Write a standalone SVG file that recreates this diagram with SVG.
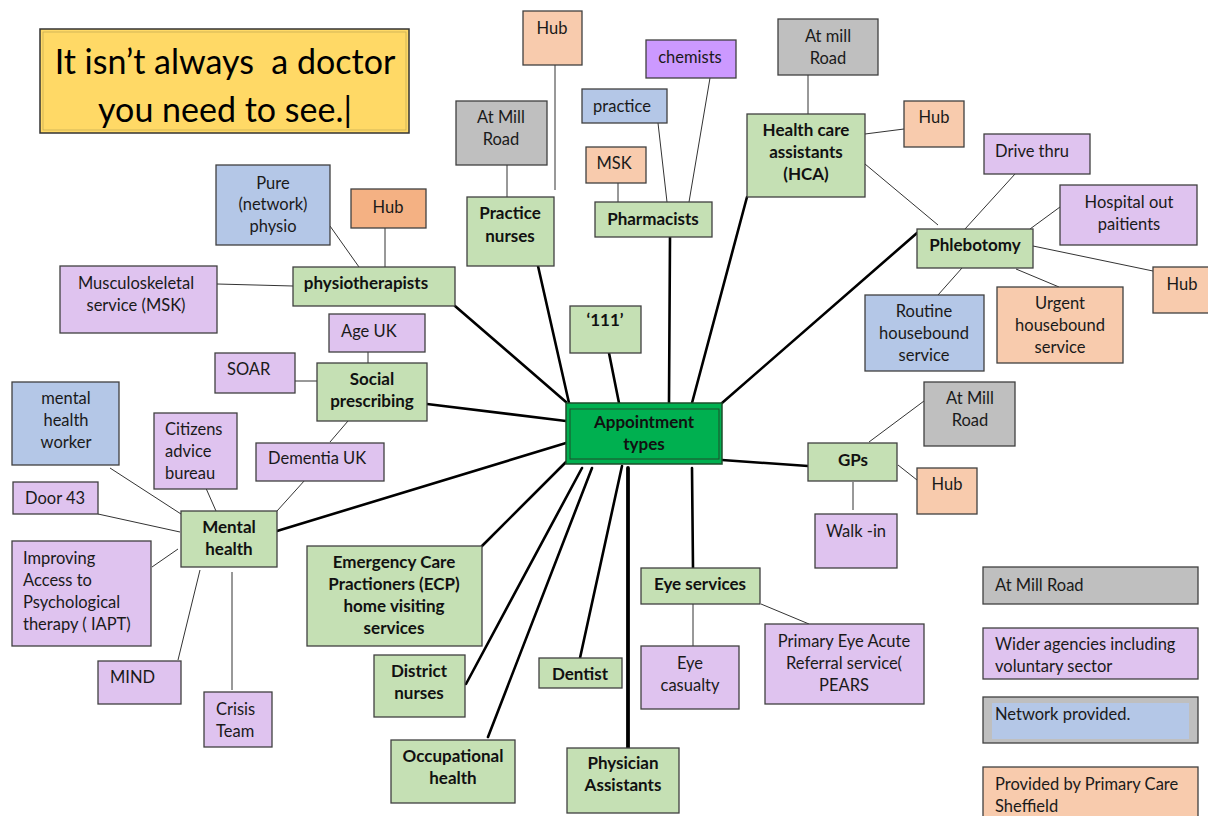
<svg xmlns="http://www.w3.org/2000/svg" width="1208" height="816" viewBox="0 0 1208 816">
<defs>
<style>
.n rect{stroke:#404040;stroke-width:1.3}
.g{fill:#C5E0B4}.gr{fill:#BFBFBF}.bl{fill:#B4C7E7}.pe{fill:#F8CBAD}.or{fill:#F4B183}.li{fill:#DFC3EF}.pu{fill:#CC99FF}
text{font-family:Lato,"Open Sans","Liberation Sans",sans-serif;font-size:16.5px;fill:#1a1a1a}
.b{font-weight:bold;text-anchor:middle;fill:#111;font-size:17px}
.c{text-anchor:middle}
.thick line{stroke:#000;stroke-width:2.6;stroke-linecap:round}
.thin line{stroke:#333;stroke-width:1}
</style>
<clipPath id="clipW"><rect x="983" y="628" width="215" height="51"/></clipPath>
</defs>
<rect width="1208" height="816" style="fill:#fff;stroke:none"/>

<g id="connectors">
<g class="thick">
<line x1="455" y1="306" x2="566" y2="402"/>
<line x1="538" y1="266" x2="569" y2="403"/>
<line x1="609" y1="353" x2="619" y2="403"/>
<line x1="670" y1="237" x2="669" y2="403"/>
<line x1="747" y1="197" x2="692" y2="403"/>
<line x1="917" y1="233" x2="722" y2="403"/>
<line x1="427" y1="404" x2="566" y2="421"/>
<line x1="277" y1="531" x2="566" y2="443"/>
<line x1="722" y1="460" x2="808" y2="466"/>
<line x1="482" y1="546" x2="566" y2="462"/>
<line x1="466" y1="684" x2="582" y2="468"/>
<line x1="488" y1="737" x2="592" y2="468"/>
<line x1="580" y1="658" x2="622" y2="466"/>
<line x1="628" y1="468" x2="628" y2="748" style="stroke-width:3.8"/>
<line x1="692" y1="468" x2="693" y2="568"/>
</g>
<g class="thin">
<line x1="555" y1="65" x2="555" y2="190"/>
<line x1="507" y1="165" x2="507" y2="197"/>
<line x1="618" y1="183" x2="618" y2="202"/>
<line x1="658" y1="123" x2="667" y2="202"/>
<line x1="710" y1="78" x2="689" y2="202"/>
<line x1="808" y1="75" x2="808" y2="114"/>
<line x1="904" y1="129" x2="865" y2="134"/>
<line x1="865" y1="164" x2="938" y2="225"/>
<line x1="1015" y1="174" x2="965" y2="229"/>
<line x1="1060" y1="207" x2="1030" y2="229"/>
<line x1="1033" y1="246" x2="1153" y2="271"/>
<line x1="1016" y1="269" x2="1059" y2="287"/>
<line x1="962" y1="268" x2="938" y2="295"/>
<line x1="330" y1="226" x2="359" y2="267"/>
<line x1="385" y1="228" x2="385" y2="267"/>
<line x1="217" y1="284" x2="293" y2="286"/>
<line x1="368" y1="345" x2="368" y2="363"/>
<line x1="295" y1="381" x2="317" y2="381"/>
<line x1="330" y1="442" x2="348" y2="421"/>
<line x1="110" y1="468" x2="181" y2="514"/>
<line x1="205" y1="486" x2="216" y2="511"/>
<line x1="305" y1="480" x2="277" y2="511"/>
<line x1="98" y1="514" x2="180" y2="532"/>
<line x1="152" y1="567" x2="178" y2="549"/>
<line x1="178" y1="660" x2="200" y2="570"/>
<line x1="232" y1="572" x2="232" y2="690"/>
<line x1="869" y1="442" x2="924" y2="401"/>
<line x1="898" y1="465" x2="917" y2="480"/>
<line x1="853" y1="482" x2="853" y2="510"/>
<line x1="693" y1="604" x2="693" y2="646"/>
<line x1="761" y1="604" x2="809" y2="624"/>
</g>
</g>

<g id="title">
<rect x="40" y="29" width="369" height="104" style="fill:#FFD966;stroke:#333;stroke-width:1.5"/>
<rect x="43" y="32" width="363" height="98" style="fill:none;stroke:#C9AE55;stroke-width:0.8"/>
<text x="225" y="74" class="c" style="font-size:34px;fill:#000;white-space:pre" xml:space="preserve">It isn’t always  a doctor</text>
<text x="225" y="122" class="c" style="font-size:34px;fill:#000">you need to see.|</text>
</g>

<g id="appointment-types">
<rect x="566" y="403" width="156" height="61" style="fill:#00B050;stroke:#1E4D2B;stroke-width:1.5"/>
<rect x="570" y="409" width="149" height="50" style="fill:none;stroke:#1E4D2B;stroke-width:1"/>
<text x="644" y="428" class="b">Appointment</text>
<text x="644" y="450" class="b">types</text>
</g>

<g class="n">
<g id="practice-nurses"><rect x="467" y="197" width="87" height="69" class="g"/><text x="510" y="219" class="b">Practice</text><text x="510" y="242" class="b">nurses</text></g>
<g id="pn-hub"><rect x="523" y="11" width="59" height="54" class="pe"/><text x="552" y="34" class="c">Hub</text></g>
<g id="pn-millroad"><rect x="456" y="101" width="91" height="64" class="gr"/><text x="501" y="123" class="c">At Mill</text><text x="501" y="145" class="c">Road</text></g>

<g id="pharmacists"><rect x="595" y="202" width="117" height="35" class="g"/><text x="653" y="225" class="b">Pharmacists</text></g>
<g id="ph-practice"><rect x="582" y="89" width="85" height="34" class="bl"/><text x="622" y="112" class="c">practice</text></g>
<g id="ph-chemists"><rect x="646" y="40" width="90" height="38" class="pu"/><text x="690" y="63" class="c">chemists</text></g>
<g id="ph-msk"><rect x="586" y="147" width="60" height="36" class="pe"/><text x="614" y="169" class="c">MSK</text></g>

<g id="hca"><rect x="747" y="114" width="118" height="83" class="g"/><text x="806" y="136" class="b">Health care</text><text x="806" y="158" class="b">assistants</text><text x="806" y="180" class="b">(HCA)</text></g>
<g id="hca-millroad"><rect x="778" y="19" width="100" height="56" class="gr"/><text x="828" y="42" class="c">At mill</text><text x="828" y="64" class="c">Road</text></g>
<g id="hca-hub"><rect x="904" y="101" width="60" height="46" class="pe"/><text x="934" y="123" class="c">Hub</text></g>

<g id="phlebotomy"><rect x="917" y="229" width="116" height="39" class="g"/><text x="975" y="251" class="b">Phlebotomy</text></g>
<g id="drive-thru"><rect x="984" y="134" width="106" height="40" class="li"/><text x="1032" y="157" class="c">Drive thru</text></g>
<g id="hospital-out"><rect x="1060" y="185" width="137" height="60" class="li"/><text x="1129" y="208" class="c">Hospital out</text><text x="1129" y="230" class="c">paitients</text></g>
<g id="phleb-hub"><rect x="1153" y="267" width="60" height="46" class="pe"/><text x="1182" y="290" class="c">Hub</text></g>
<g id="urgent"><rect x="997" y="287" width="126" height="76" class="pe"/><text x="1060" y="309" class="c">Urgent</text><text x="1060" y="331" class="c">housebound</text><text x="1060" y="353" class="c">service</text></g>
<g id="routine"><rect x="865" y="295" width="119" height="76" class="bl"/><text x="924" y="317" class="c">Routine</text><text x="924" y="339" class="c">housebound</text><text x="924" y="361" class="c">service</text></g>

<g id="physiotherapists"><rect x="293" y="267" width="162" height="39" class="g"/><text x="366" y="289" class="b">physiotherapists</text></g>
<g id="pure-physio"><rect x="216" y="165" width="114" height="80" class="bl"/><text x="273" y="189" class="c">Pure</text><text x="273" y="210" class="c">(network)</text><text x="273" y="232" class="c">physio</text></g>
<g id="physio-hub"><rect x="351" y="189" width="75" height="39" class="or"/><text x="388" y="213" class="c">Hub</text></g>
<g id="msk-service"><rect x="60" y="266" width="157" height="67" class="li"/><text x="136" y="289" class="c">Musculoskeletal</text><text x="136" y="311" class="c">service (MSK)</text></g>

<g id="social-prescribing"><rect x="317" y="363" width="110" height="58" class="g"/><text x="372" y="385" class="b">Social</text><text x="372" y="407" class="b">prescribing</text></g>
<g id="age-uk"><rect x="329" y="314" width="96" height="38" class="li"/><text x="341" y="337">Age UK</text></g>
<g id="soar"><rect x="215" y="353" width="80" height="40" class="li"/><text x="227" y="375">SOAR</text></g>
<g id="dementia-uk"><rect x="256" y="443" width="128" height="38" class="li"/><text x="268" y="464">Dementia UK</text></g>

<g id="mental-health"><rect x="181" y="511" width="96" height="56" class="g"/><text x="229" y="533" class="b">Mental</text><text x="229" y="555" class="b">health</text></g>
<g id="mh-worker"><rect x="12" y="382" width="107" height="83" class="bl"/><text x="66" y="404" class="c">mental</text><text x="66" y="426" class="c">health</text><text x="66" y="448" class="c">worker</text></g>
<g id="citizens"><rect x="154" y="413" width="83" height="76" class="li"/><text x="165" y="435">Citizens</text><text x="165" y="457">advice</text><text x="165" y="479">bureau</text></g>
<g id="door43"><rect x="13" y="482" width="85" height="32" class="li"/><text x="25" y="504">Door 43</text></g>
<g id="iapt"><rect x="12" y="541" width="139" height="105" class="li"/><text x="23" y="564">Improving</text><text x="23" y="586">Access to</text><text x="23" y="608">Psychological</text><text x="23" y="630">therapy ( IAPT)</text></g>
<g id="mind"><rect x="98" y="661" width="83" height="43" class="li"/><text x="110" y="683">MIND</text></g>
<g id="crisis"><rect x="204" y="692" width="68" height="55" class="li"/><text x="216" y="715">Crisis</text><text x="216" y="737">Team</text></g>

<g id="n111"><rect x="570" y="306" width="71" height="47" class="g"/><text x="605" y="326" class="b">‘111’</text></g>

<g id="gps"><rect x="808" y="443" width="89" height="38" class="g"/><text x="853" y="466" class="b">GPs</text></g>
<g id="gp-millroad"><rect x="924" y="382" width="91" height="64" class="gr"/><text x="970" y="404" class="c">At Mill</text><text x="970" y="426" class="c">Road</text></g>
<g id="gp-hub"><rect x="917" y="468" width="60" height="46" class="pe"/><text x="947" y="490" class="c">Hub</text></g>
<g id="walk-in"><rect x="815" y="514" width="82" height="54" class="li"/><text x="856" y="537" class="c">Walk -in</text></g>

<g id="ecp"><rect x="307" y="546" width="175" height="100" class="g"/><text x="394" y="568" class="b">Emergency Care</text><text x="394" y="590" class="b">Practioners (ECP)</text><text x="394" y="612" class="b">home visiting</text><text x="394" y="634" class="b">services</text></g>
<g id="district-nurses"><rect x="374" y="655" width="91" height="62" class="g"/><text x="419" y="677" class="b">District</text><text x="419" y="699" class="b">nurses</text></g>
<g id="occupational"><rect x="391" y="740" width="124" height="63" class="g"/><text x="453" y="762" class="b">Occupational</text><text x="453" y="784" class="b">health</text></g>
<g id="dentist"><rect x="539" y="658" width="83" height="30" class="g"/><text x="580" y="680" class="b">Dentist</text></g>
<g id="physician"><rect x="567" y="748" width="112" height="65" class="g"/><text x="623" y="769" class="b">Physician</text><text x="623" y="791" class="b">Assistants</text></g>

<g id="eye-services"><rect x="641" y="568" width="119" height="36" class="g"/><text x="700" y="590" class="b">Eye services</text></g>
<g id="eye-casualty"><rect x="641" y="646" width="98" height="63" class="li"/><text x="690" y="669" class="c">Eye</text><text x="690" y="691" class="c">casualty</text></g>
<g id="pears"><rect x="765" y="624" width="159" height="80" class="li"/><text x="844" y="647" class="c">Primary Eye Acute</text><text x="844" y="669" class="c">Referral service(</text><text x="844" y="691" class="c">PEARS</text></g>

<g id="legend">
<rect x="983" y="567" width="215" height="37" class="gr"/><text x="995" y="591">At Mill Road</text>
<rect x="983" y="628" width="215" height="51" class="li"/>
<g clip-path="url(#clipW)"><text x="995" y="650">Wider agencies including</text><text x="995" y="672">voluntary sector</text></g>
<rect x="983" y="697" width="215" height="46" class="gr"/>
<rect x="992" y="703" width="197" height="36" style="fill:#B4C7E7;stroke:none"/><text x="995" y="720">Network provided.</text>
<rect x="983" y="767" width="215" height="60" class="pe"/><text x="995" y="790">Provided by Primary Care</text><text x="995" y="812">Sheffield</text>
</g>
</g>
</svg>
